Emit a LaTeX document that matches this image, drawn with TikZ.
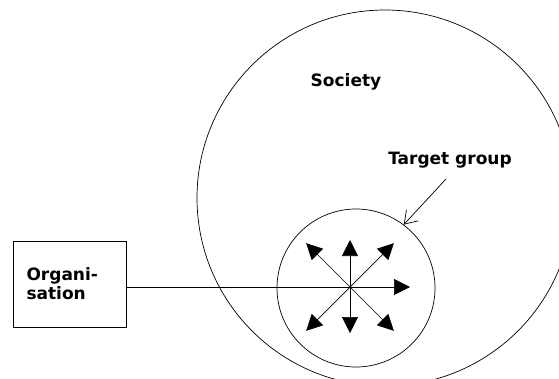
\documentclass[tikz,border=0pt]{standalone}
\usepackage{fontspec}
\setmainfont{DejaVu Sans}
\usetikzlibrary{arrows.meta}

\begin{document}
\begin{tikzpicture}[x=1pt, y=-1pt, line width=0.7pt,
    lbl/.style={font=\fontsize{17}{19}\selectfont\bfseries},
    spread/.style={-{Triangle[width=16pt,length=16pt]}}]
    \useasboundingbox (0,0) rectangle (559,378);
    \clip (0,0) rectangle (559,378);
    % Society
    \node[draw, circle, minimum size=376pt, inner sep=0pt] (society) at (385,198) {};
    \node[lbl] (soclbl) at (346,82) {Society};
    % Target group
    \node[draw, circle, minimum size=158pt, inner sep=0pt] (target) at (356,288) {};
    \node[lbl] (tgtlbl) at (450,160) {Target group};
    \coordinate (tgtfrom) at (446,179);
    \draw[-{Straight Barb[length=12pt,width=16pt]}] (tgtfrom) -- (target.53);
    % Organisation
    \node[draw, minimum width=113pt, minimum height=86pt, lbl, align=left,
          text width=86pt, inner sep=0pt] (org) at (69.5,284) {Organi-\\sation};
    % Spreading from the hub
    \coordinate (hub) at (350,287);
    \draw (org.east |- hub) -- (hub);
    \draw[spread] (hub) -- ++(60,0);
    \foreach \ang/\len in {90/46, 270/47, 45/62, 135/62, 225/62, 315/62}
        \draw[spread] (hub) -- ++(\ang:\len);
\end{tikzpicture}
\end{document}
